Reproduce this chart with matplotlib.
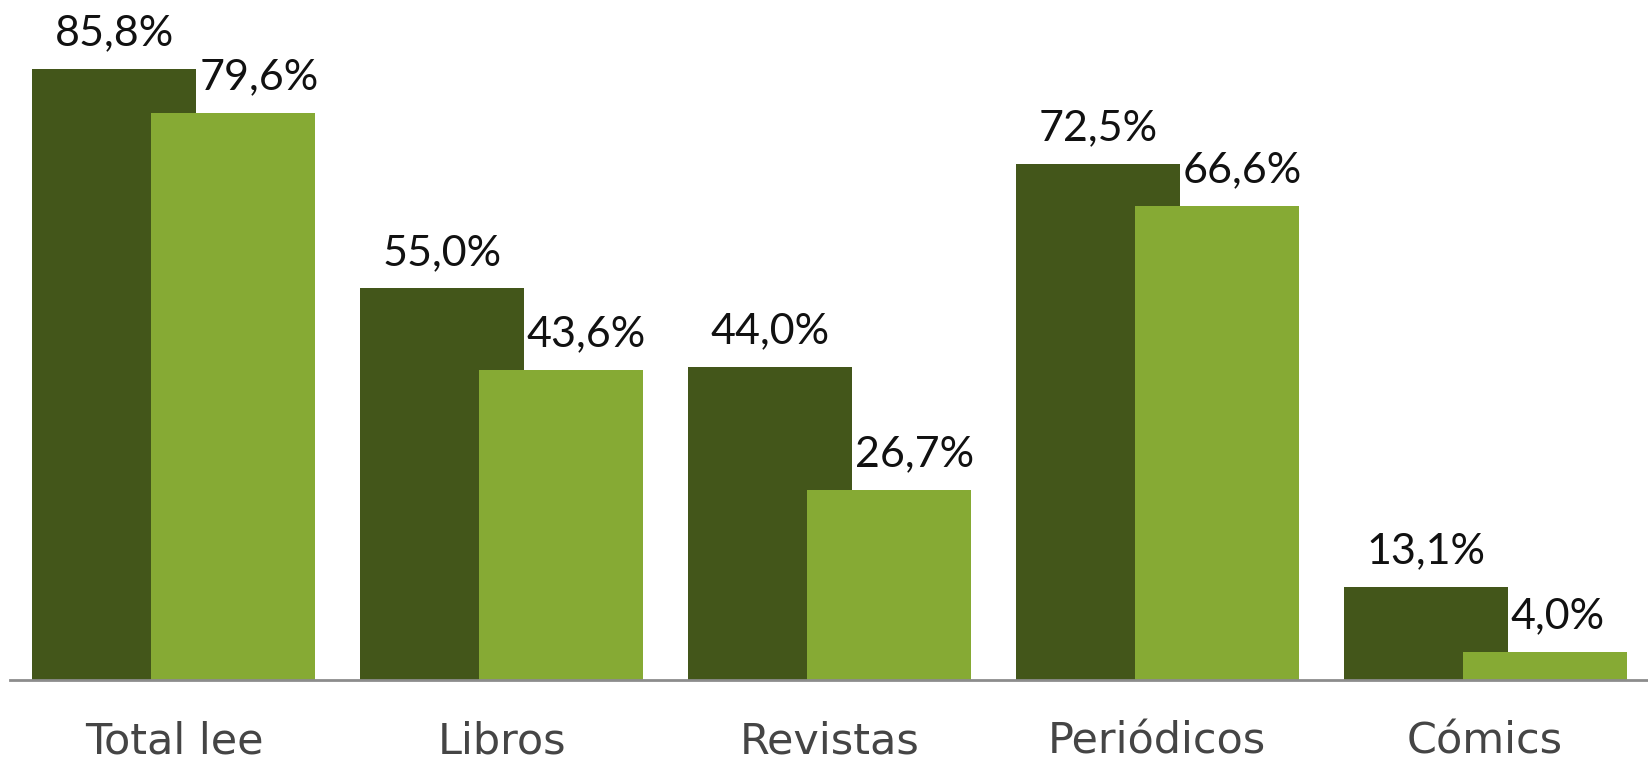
import matplotlib.pyplot as plt
import numpy as np

# Datos del gráfico
categorias = ["Total lee", "Libros", "Revistas", "Periódicos", "Cómics"]
serie_oscura = [85.8, 55.0, 44.0, 72.5, 13.1]
serie_clara = [79.6, 43.6, 26.7, 66.6, 4.0]

color_oscuro = "#43561a"
color_claro = "#86aa34"


def etiqueta(v):
    return f"{v:.1f}".replace(".", ",") + "%"


fig = plt.figure(figsize=(16.49, 7.67), dpi=100)
ax = fig.add_axes([10 / 1649, 87 / 767, 1 - 10 / 1649, 680 / 767])

x = np.arange(len(categorias))
ancho = 0.5
desp = 0.1815

ax.bar(x - desp, serie_oscura, width=ancho, color=color_oscuro, zorder=2)
ax.bar(x + desp, serie_clara, width=ancho, color=color_claro, zorder=3)

# Etiquetas de valor sobre las barras
for i in range(len(categorias)):
    ax.annotate(etiqueta(serie_oscura[i]), (x[i] - desp, serie_oscura[i]),
                xytext=(0, 17), textcoords="offset points",
                ha="center", va="baseline", fontsize=31, color="#111111",
                family="Lato")
    ax.annotate(etiqueta(serie_clara[i]), (x[i] - desp + ancho / 2, serie_clara[i]),
                xytext=(2, 17), textcoords="offset points",
                ha="left", va="baseline", fontsize=31, color="#111111",
                family="Lato")

ax.set_xlim(-0.5, 4.5)
ax.set_ylim(0, 95.5)
ax.set_xticks(x)
ax.set_xticklabels(categorias, fontsize=31, color="#454545")
ax.tick_params(axis="x", length=0, pad=29)
ax.set_yticks([])

for lado in ["top", "right", "left"]:
    ax.spines[lado].set_visible(False)
ax.spines["bottom"].set_color("#8c8c8c")
ax.spines["bottom"].set_linewidth(2)
ax.spines["bottom"].set_zorder(4)

fig.savefig("out.png", dpi=100)
